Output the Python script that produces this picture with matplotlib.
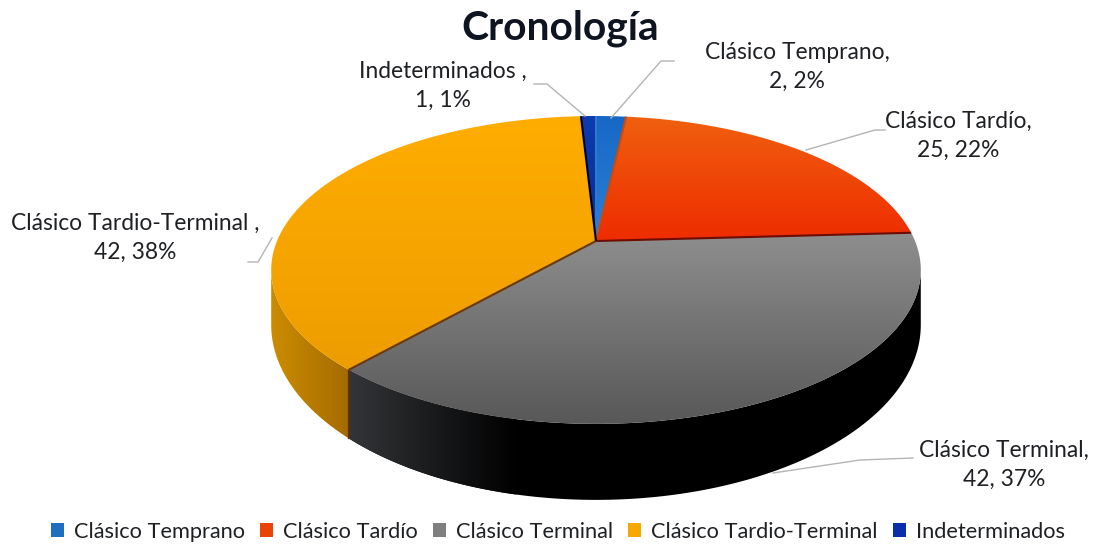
import numpy as np
import matplotlib
matplotlib.use("Agg")
import matplotlib.pyplot as plt
from matplotlib.patches import Patch, Polygon
from matplotlib.colors import LinearSegmentedColormap

plt.rcParams['font.family'] = ['Lato', 'DejaVu Sans']

title = "Cronología"
categories = ["Clásico Temprano", "Clásico Tardío", "Clásico Terminal",
              "Clásico Tardio-Terminal", "Indeterminados"]
values = [2, 25, 42, 42, 1]
data_labels = ["Clásico Temprano,\n2, 2%", "Clásico Tardío,\n25, 22%",
               "Clásico Terminal,\n42, 37%", "Clásico Tardio-Terminal ,\n42, 38%",
               "Indeterminados ,\n1, 1%"]
legend_colors = ["#1f6fc0", "#e8440a", "#7f7f7f", "#f5a800", "#0a2fa8"]
top_gradients = [("#1668c4", "#2a80d8"), ("#f0600f", "#ee2c00"),
                 ("#8e8e8e", "#585858"), ("#ffad00", "#ee9d00"),
                 ("#0c3cb0", "#062a90")]
seam_colors = ["#2f78cc", "#c84a10", "#6e0c00", "#6a3a00", "#000020"]
label_pos = [(797, 67), (958, 136), (1004, 465), (135, 238), (443, 86)]
leaders = [[(611, 118), (661, 61), (674, 61)],
           [(806, 150), (875, 130), (885, 130)],
           [(773, 473), (860, 460), (913, 458)],
           [(272, 238), (258, 262), (248, 262)],
           [(585, 116), (547, 84), (534, 84)]]

# Perspective disc geometry, in pixels
CX, BX, K = 596.0, 319.0, 0.188
TOP_Y, TOP_A = 241.0, 148.5
BOT_Y, BOT_A = 292.0, 168.8
TANGENT = np.degrees(np.arccos(-K))


def disc(theta_deg, apex_y, a):
    t = np.radians(np.asarray(theta_deg, dtype=float))
    d = 1 + K * np.cos(t)
    return CX + BX * np.sin(t) / d, apex_y - a * np.cos(t) / d


def gradient(ax, poly, c0, c1, horizontal=False):
    cmap = LinearSegmentedColormap.from_list("g", [c0, c1])
    xy = poly.get_xy()
    x0, x1, y0, y1 = xy[:, 0].min(), xy[:, 0].max(), xy[:, 1].min(), xy[:, 1].max()
    g = np.linspace(0, 1, 256)
    g = g[None, :] if horizontal else g[:, None]
    im = ax.imshow(g, cmap=cmap, extent=(x0, x1, y1, y0), aspect="auto",
                   interpolation="bilinear", zorder=poly.get_zorder())
    ax.add_patch(poly)
    poly.set_visible(False)
    im.set_clip_path(poly)


fig = plt.figure(figsize=(10.94, 5.44), dpi=100)
ax = fig.add_axes([0, 0, 1, 1])
ax.axis("off")

fractions = np.array(values) / sum(values)
edges = np.concatenate([[0], np.cumsum(fractions) * 360])

# Side walls: terminal and tardio-terminal are the front-facing slices
i_term, i_tt = 2, 3
for (a0, a1, c0, c1) in [
        (TANGENT, edges[i_term + 1], "#000000", "#000000"),
        (edges[i_tt], 360 - TANGENT, "#cc8c00", "#a56b00")]:
    th = np.linspace(a0, a1, 200)
    xt, yt = disc(th, TOP_Y, TOP_A)
    xb, yb = disc(th, BOT_Y, BOT_A)
    pts = np.column_stack([np.r_[xt, xb[::-1]], np.r_[yt, yb[::-1]]])
    gradient(ax, Polygon(pts, closed=True, zorder=2), c0, c1, horizontal=True)

# lighter left end of the black wall
th = np.linspace(edges[i_term + 1] - 30, edges[i_term + 1], 100)
xt, yt = disc(th, TOP_Y, TOP_A)
xb, yb = disc(th, BOT_Y, BOT_A)
pts = np.column_stack([np.r_[xt, xb[::-1]], np.r_[yt, yb[::-1]]])
gradient(ax, Polygon(pts, closed=True, zorder=2.1), "#333538", "#000000", horizontal=True)

xs, ys = disc(edges[i_tt], TOP_Y, TOP_A)
xe, ye = disc(edges[i_tt], BOT_Y, BOT_A)
ax.plot([xs, xe], [ys, ye], color="#5a3200", lw=1.6, zorder=3)

# Top surface
for i in range(len(values)):
    th = np.linspace(edges[i], edges[i + 1], 200)
    x, y = disc(th, TOP_Y, TOP_A)
    pts = np.column_stack([np.r_[CX, x], np.r_[TOP_Y, y]])
    gradient(ax, Polygon(pts, closed=True, zorder=4), *top_gradients[i])

for i in range(len(values)):
    x, y = disc(edges[i], TOP_Y, TOP_A)
    ax.plot([CX, x], [TOP_Y, y], color=seam_colors[i], lw=1.5, zorder=5,
            solid_capstyle="butt")

# Data labels and leaders
for lab, pos, path in zip(data_labels, label_pos, leaders):
    ax.text(pos[0], pos[1], lab, ha="center", va="center", fontsize=16.4,
            color="#1e2024", linespacing=1.5, zorder=7)
    ax.plot(*zip(*path), color="#b4b4b4", lw=1.0, zorder=6)

ax.text(560, 28, title, ha="center", va="center", fontsize=29.3, fontweight="bold",
        color="#0e1420", zorder=7)

handles = [Patch(facecolor=c, edgecolor="none", label=n)
           for c, n in zip(legend_colors, categories)]
ax.legend(handles=handles, ncol=5, loc="center", bbox_to_anchor=(558, 532),
          bbox_transform=ax.transData, frameon=False, fontsize=15.7,
          labelcolor="#1e2024", handlelength=0.6, handleheight=0.6,
          handletextpad=0.45, columnspacing=0.7, borderpad=0, borderaxespad=0)

ax.set_xlim(0, 1094)
ax.set_ylim(544, 0)
fig.savefig("out.png", dpi=100, facecolor="white")
